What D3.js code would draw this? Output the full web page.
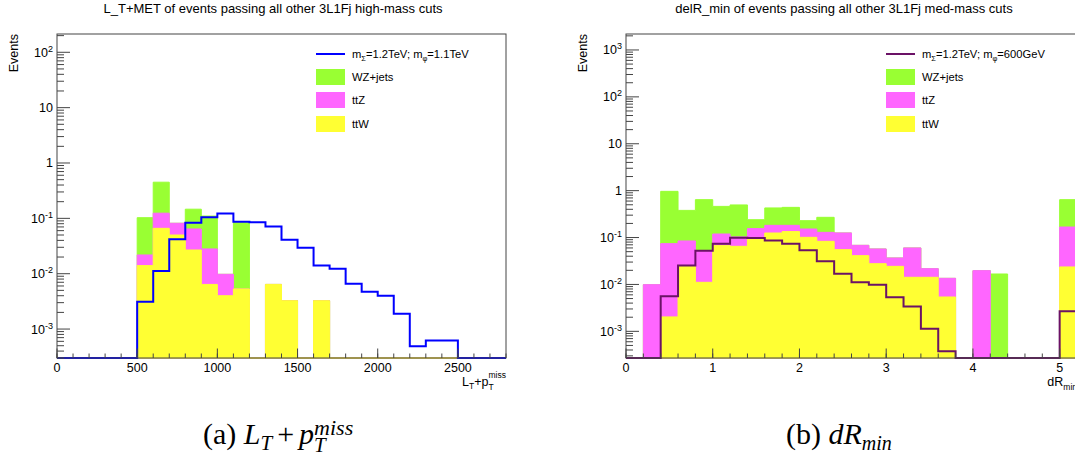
<!DOCTYPE html>
<html>
<head>
<meta charset="utf-8">
<script src="https://cdn.jsdelivr.net/npm/d3@7"></script>
<style>
  body { margin: 0; background: #fff; }
  svg text { font-family: "Liberation Sans", Arial, sans-serif; fill: #000; }
  svg text.cap { font-family: "Liberation Serif", "Times New Roman", serif; }
</style>
</head>
<body>
<div id="chart"></div>
<script>
// ---- L_T + MET panel, 100 GeV bins from 0 to 2800
const ltBinWidth = 100;
const ltTTW    = [0,0,0,0,0, 0.014,0.066,0.050,0.0268,0.0064, 0.0040,0.0053,0,0.0064,0.00325, 0,0.00325,0,0,0, 0,0,0,0,0, 0,0,0];
const ltTTZ    = [0,0,0,0,0, 0.0078,0.058,0.0315,0.0375,0.0216, 0.00575,0,0,0,0, 0,0,0,0,0, 0,0,0,0,0, 0,0,0];
const ltWZ     = [0,0,0,0,0, 0.081,0.326,0,0.082,0.082, 0,0.0797,0,0,0, 0,0,0,0,0, 0,0,0,0,0, 0,0,0];
const ltSignal = [0,0,0,0,0, 0.0031,0.0112,0.042,0.0836,0.105, 0.122,0.087,0.085,0.071,0.041, 0.0295,0.014,0.0123,0.0066,0.0047, 0.0040,0.0019,0.00049,0.00062,0.00062, 0,0,0];
const ltXTicks = [0, 500, 1000, 1500, 2000, 2500];
const ltYTicks = [-3, -2, -1, 0, 1, 2];

// ---- dR_min panel, 0.2 bins from 0 to 5.2
const drBinWidth = 0.2;
const drTTW    = [0,0,0.00203,0.0252,0.0111, 0.0672,0.065,0.093,0.125,0.134, 0.101,0.083,0.0552,0.0411,0.0277, 0.0243,0.0142,0.0142,0.0054,0, 0,0,0,0,0, 0.0236];
const drTTZ    = [0,0.0099,0.0721,0.0594,0.0409, 0.0518,0.038,0.062,0.057,0.048, 0.051,0.046,0.070,0.0271,0.0294, 0.0124,0.0458,0.0075,0.0081,0, 0.0197,0,0,0,0, 0.144];
const drWZ     = [0,0,0.892,0.295,0.591, 0.343,0.393,0.085,0.246,0.258, 0.077,0.141,0,0,0, 0,0,0,0,0, 0,0.0167,0,0,0, 0.475];
const drSignal = [0,0,0.0056,0.0252,0.0525, 0.074,0.0995,0.098,0.087,0.074, 0.0533,0.0311,0.017,0.0111,0.0099, 0.0053,0.0034,0.00114,0.000375,0, 0,0,0,0,0, 0.00267];
const drXTicks = [0, 1, 2, 3, 4, 5];
const drYTicks = [-3, -2, -1, 0, 1, 2, 3];

const bkgNames = ["WZ+jets", "ttZ", "ttW"];
const bkgColors = ["#99ff33", "#ff66ff", "#ffff33"];

const width = 1075, height = 456;
const svg = d3.select("#chart").append("svg")
    .attr("width", width)
    .attr("height", height);

const decadeLabel = (sel, n) => {
    if (n === 0) { sel.text("1"); return; }
    if (n === 1) { sel.text("10"); return; }
    sel.append("tspan").text("10");
    sel.append("tspan").attr("dy", -5).attr("font-size", 9).text(n);
};

const drawPanel = cfg => {
    const { left, right, top, bottom } = cfg;
    const x = d3.scaleLinear().domain(cfg.xDomain).range([left, right]);
    const y = d3.scaleLog().domain(cfg.yDomain).range([bottom, top]).clamp(true);
    const yMin = cfg.yDomain[0];
    const yv = v => y(v > 0 ? v : yMin);
    const bw = cfg.binWidth;
    const g = svg.append("g");

    const steps = vals => vals.flatMap((v, i) => [[i * bw, v], [(i + 1) * bw, v]]);

    // stacked backgrounds, drawn from the total downwards like THStack
    const lay1 = cfg.ttw;
    const lay2 = cfg.ttw.map((v, i) => v + cfg.ttz[i]);
    const lay3 = lay2.map((v, i) => v + cfg.wz[i]);
    const area = d3.area()
        .x(d => x(d[0]))
        .y0(bottom)
        .y1(d => yv(d[1]));
    [lay3, lay2, lay1].forEach((vals, k) => {
        g.append("path")
            .attr("d", area(steps(vals)))
            .attr("fill", bkgColors[k])
            .attr("stroke", bkgColors[k])
            .attr("stroke-width", 1);
    });

    const line = d3.line().x(d => x(d[0])).y(d => yv(d[1]));
    g.append("path")
        .attr("d", line(steps(cfg.signal)))
        .attr("fill", "none")
        .attr("stroke", cfg.sigColor)
        .attr("stroke-width", 2);

    // frame
    g.append("rect")
        .attr("x", left).attr("y", top)
        .attr("width", right - left).attr("height", bottom - top)
        .attr("fill", "none")
        .attr("stroke", "#444")
        .attr("stroke-width", 1);

    // x ticks
    const xMinor = d3.range(cfg.xDomain[0], cfg.xDomain[1] + 1e-9, bw);
    g.selectAll(null).data(xMinor).enter().append("line")
        .attr("x1", d => x(d)).attr("x2", d => x(d))
        .attr("y1", bottom).attr("y2", bottom - 4.5)
        .attr("stroke", "#444");
    g.selectAll(null).data(cfg.xTicks).enter().append("line")
        .attr("x1", d => x(d)).attr("x2", d => x(d))
        .attr("y1", bottom).attr("y2", bottom - 9.5)
        .attr("stroke", "#444");
    g.selectAll(null).data(cfg.xTicks).enter().append("text")
        .attr("x", d => x(d)).attr("y", bottom + 14)
        .attr("text-anchor", "middle")
        .attr("font-size", 12.5)
        .text(d => d);

    // y ticks
    const lo = Math.floor(Math.log10(cfg.yDomain[0])), hi = Math.ceil(Math.log10(cfg.yDomain[1]));
    const yMinor = [];
    for (let e = lo; e <= hi; e++) {
        for (let m = 2; m <= 9; m++) {
            const v = m * Math.pow(10, e);
            if (v >= cfg.yDomain[0] && v <= cfg.yDomain[1]) yMinor.push(v);
        }
    }
    g.selectAll(null).data(yMinor).enter().append("line")
        .attr("x1", left).attr("x2", left + 7)
        .attr("y1", d => y(d)).attr("y2", d => y(d))
        .attr("stroke", "#444");
    g.selectAll(null).data(cfg.yTicks).enter().append("line")
        .attr("x1", left).attr("x2", left + 13)
        .attr("y1", d => y(Math.pow(10, d))).attr("y2", d => y(Math.pow(10, d)))
        .attr("stroke", "#444");
    g.selectAll(null).data(cfg.yTicks).enter().append("text")
        .attr("x", left - 4)
        .attr("y", d => y(Math.pow(10, d)) + 4.5)
        .attr("text-anchor", "end")
        .attr("font-size", 12.5)
        .each(function (d) { decadeLabel(d3.select(this), d); });

    // axis titles
    g.append("text")
        .attr("transform", `translate(${left - 39},${top}) rotate(-90)`)
        .attr("text-anchor", "end")
        .attr("font-size", 12.5)
        .text("Events");
    cfg.xTitle(g.append("text")
        .attr("x", right).attr("y", bottom + 28)
        .attr("text-anchor", "end")
        .attr("font-size", 12.5));

    // title
    svg.append("text")
        .attr("x", cfg.titleX).attr("y", 13)
        .attr("text-anchor", "middle")
        .attr("font-size", 13)
        .text(cfg.title);

    // legend
    const lx = cfg.legendX;
    g.append("line")
        .attr("x1", lx).attr("x2", lx + 29)
        .attr("y1", 54).attr("y2", 54)
        .attr("stroke", cfg.sigColor).attr("stroke-width", 2);
    const sig = g.append("text").attr("x", lx + 36).attr("y", 58).attr("font-size", 11.2);
    sig.append("tspan").text("m");
    sig.append("tspan").attr("font-size", 7.5).attr("dy", 3).text("Σ");
    sig.append("tspan").attr("dy", -3).text("=1.2TeV; m");
    sig.append("tspan").attr("font-size", 7.5).attr("dy", 3).text("φ");
    sig.append("tspan").attr("dy", -3).text(cfg.sigMass);
    const boxY = [69, 92, 116];
    bkgNames.forEach((name, k) => {
        g.append("rect")
            .attr("x", lx).attr("y", boxY[k])
            .attr("width", 29).attr("height", 16)
            .attr("fill", bkgColors[k]);
        g.append("text")
            .attr("x", lx + 36).attr("y", boxY[k] + 12)
            .attr("font-size", 11.2)
            .text(name);
    });
};

drawPanel({
    left: 57, right: 506, top: 34, bottom: 358,
    xDomain: [0, 2800], yDomain: [3e-4, 214], binWidth: ltBinWidth,
    ttw: ltTTW, ttz: ltTTZ, wz: ltWZ, signal: ltSignal,
    xTicks: ltXTicks, yTicks: ltYTicks,
    sigColor: "#0000ff", sigMass: "=1.1TeV",
    title: "L_T+MET of events passing all other 3L1Fj high-mass cuts", titleX: 273,
    legendX: 316,
    xTitle: t => {
        t.append("tspan").text("L");
        t.append("tspan").attr("font-size", 8.5).attr("dy", 3).text("T");
        t.append("tspan").attr("dy", -3).text("+p");
        const sub = t.append("tspan").attr("font-size", 8.5).attr("dy", 4).text("T");
        const w = sub.node().getComputedTextLength();
        t.append("tspan").attr("font-size", 8.5).attr("dx", -w).attr("dy", -12).text("miss");
    }
});

drawPanel({
    left: 626, right: 1077, top: 34, bottom: 358,
    xDomain: [0, 5.2], yDomain: [2.7e-4, 2190], binWidth: drBinWidth,
    ttw: drTTW, ttz: drTTZ, wz: drWZ, signal: drSignal,
    xTicks: drXTicks, yTicks: drYTicks,
    sigColor: "#6b1266", sigMass: "=600GeV",
    title: "delR_min of events passing all other 3L1Fj med-mass cuts", titleX: 844,
    legendX: 886,
    xTitle: t => {
        t.append("tspan").text("dR");
        t.append("tspan").attr("font-size", 8.5).attr("dy", 4).text("min");
    }
});

// sub-figure captions
const capA = svg.append("text").attr("class", "cap")
    .attr("x", 203).attr("y", 444).attr("font-size", 30);
capA.append("tspan").text("(a) ");
capA.append("tspan").attr("font-style", "italic").text("L");
capA.append("tspan").attr("font-style", "italic").attr("font-size", 21).attr("dy", 6).text("T");
capA.append("tspan").attr("dx", 5).attr("dy", -6).text("+");
capA.append("tspan").attr("font-style", "italic").attr("dx", 5).text("p");
const capSub = capA.append("tspan").attr("font-style", "italic").attr("font-size", 21).attr("dy", 8).text("T");
capA.append("tspan").attr("font-style", "italic").attr("font-size", 22)
    .attr("dx", -capSub.node().getComputedTextLength()).attr("dy", -17).text("miss");

const capB = svg.append("text").attr("class", "cap")
    .attr("x", 786).attr("y", 444).attr("font-size", 30);
capB.append("tspan").text("(b) ");
capB.append("tspan").attr("font-style", "italic").text("dR");
capB.append("tspan").attr("font-style", "italic").attr("font-size", 20).attr("dy", 6).text("min");
</script>
</body>
</html>
